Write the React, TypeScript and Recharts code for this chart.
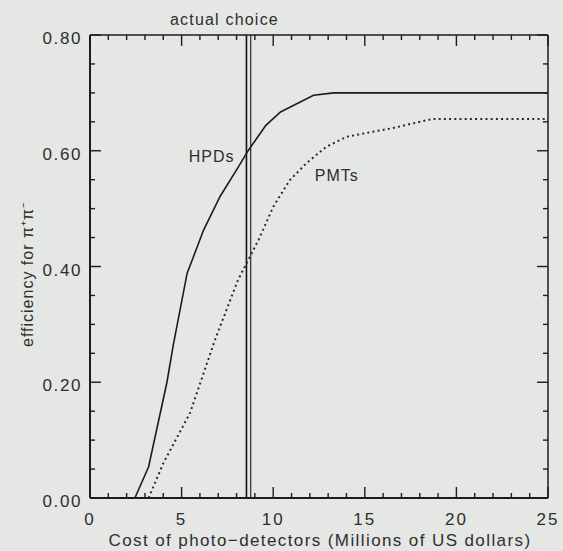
import { Line, LineChart, ReferenceDot, ReferenceLine, XAxis, YAxis } from "recharts";

// HPDs (solid) and PMTs (dotted)
const hpdCost = [2.2, 2.45, 3.2, 4.2, 4.55, 5.3, 6.2, 7.1, 8.0, 8.65, 9.6, 10.4, 12.2, 13.3, 25];
const hpdEff = [0, 0, 0.054, 0.2, 0.265, 0.388, 0.463, 0.521, 0.567, 0.601, 0.644, 0.667, 0.696, 0.7, 0.7];
const pmtCost = [3.2, 4.0, 5.46, 6.82, 8.08, 9.2, 10.0, 10.9, 11.83, 12.9, 14.0, 15.45, 16.5, 18.7, 25];
const pmtEff = [0, 0.06, 0.147, 0.273, 0.377, 0.446, 0.503, 0.549, 0.579, 0.607, 0.624, 0.633, 0.639, 0.655, 0.655];

const choiceLines = [8.54, 8.77];

const xTicks = [0, 1, 2, 3, 4, 5, 6, 7, 8, 9, 10, 11, 12, 13, 14, 15, 16, 17, 18, 19, 20, 21, 22, 23, 24, 25];
const yTicks = [0, 0.05, 0.1, 0.15, 0.2, 0.25, 0.3, 0.35, 0.4, 0.45, 0.5, 0.55, 0.6, 0.65, 0.7, 0.75, 0.8];

const W = 563;
const H = 551;
const MARGIN = { top: 34, right: 14, bottom: 52, left: 89 };
const PLOT_H = H - MARGIN.top - MARGIN.bottom - 2; // two 1px axis boxes
const Y_MAX = 0.8;

const BG = "#e4e7e4";
const INK = "#1c1c1c";
const TEXT = "#2e2e2e";
const FONT = "'Liberation Sans', Arial, sans-serif";

const hpdData = hpdCost.map((x, i) => ({ x, y: hpdEff[i] }));
const pmtData = pmtCost.map((x, i) => ({ x, y: pmtEff[i] }));

const isMajorX = (v: number) => Math.abs(v % 5) < 1e-6;
const isMajorY = (v: number) => Math.abs(v * 5 - Math.round(v * 5)) < 1e-6;

// tick length in pixels -> y data units, for the bottom-edge tick segments
const pxToY = (px: number) => (px / PLOT_H) * Y_MAX;

function TopTick(props: any) {
  const x = Number(props.x);
  const y = Number(props.y);
  const len = isMajorX(props.payload.value) ? 11 : 5;
  return <path d={`M${x},${y}V${y + len}`} stroke={INK} strokeWidth={1.4} fill="none" />;
}

function BottomTick(props: any) {
  const x = Number(props.x);
  const y = Number(props.y);
  const v = props.payload.value;
  if (!isMajorX(v)) return <g />;
  return (
    <text x={x} y={y + 27} textAnchor="middle" fontSize={17} letterSpacing={2} fill={TEXT} fontFamily={FONT}>
      {v}
    </text>
  );
}

function YTick(props: any, side: "left" | "right") {
  const x = Number(props.x);
  const y = Number(props.y);
  const v = props.payload.value;
  const major = isMajorY(v);
  const len = major ? 11 : 5;
  const dir = side === "left" ? 1 : -1;
  return (
    <g>
      <path d={`M${x},${y}H${x + dir * len}`} stroke={INK} strokeWidth={1.4} fill="none" />
      {side === "left" && major && (
        <text x={x - 8} y={y + 9} textAnchor="end" fontSize={17} letterSpacing={1.6} fill={TEXT} fontFamily={FONT}>
          {v.toFixed(2)}
        </text>
      )}
    </g>
  );
}

// axis titles, drawn from the left axis box
function Titles(p: any) {
  const { x, y, height } = p.viewBox;
  const cx = 33;
  const cy = y + height / 2 + 8;
  return (
    <g>
      <text
        x={cx}
        y={cy}
        transform={`rotate(-90 ${cx} ${cy})`}
        textAnchor="middle"
        fontSize={16}
        letterSpacing={1}
        fill={TEXT}
        fontFamily={FONT}
      >
        efficiency for π⁺π⁻
      </text>
      <text x={x + 231} y={y + height + 48} textAnchor="middle" fontSize={17} letterSpacing={1.4} fill={TEXT} fontFamily={FONT}>
        Cost of photo−detectors (Millions of US dollars)
      </text>
    </g>
  );
}

export default function App() {
  return (
    <div style={{ position: "absolute", left: 0, top: 0, width: W, height: H, background: BG }}>
      <LineChart width={W} height={H} margin={MARGIN}>
        <XAxis
          xAxisId="b"
          type="number"
          dataKey="x"
          domain={[0, 25]}
          ticks={xTicks}
          interval={0}
          height={1}
          tickSize={0}
          tickMargin={0}
          tickLine={false}
          axisLine={{ stroke: INK, strokeWidth: 2 }}
          tick={BottomTick}
        />
        <XAxis
          xAxisId="t"
          orientation="top"
          type="number"
          dataKey="x"
          domain={[0, 25]}
          ticks={xTicks}
          interval={0}
          height={1}
          tickSize={0}
          tickMargin={0}
          tickLine={false}
          axisLine={{ stroke: INK, strokeWidth: 1.5 }}
          tick={TopTick}
        />
        <YAxis
          yAxisId="l"
          type="number"
          domain={[0, Y_MAX]}
          ticks={yTicks}
          interval={0}
          width={1}
          tickSize={0}
          tickMargin={0}
          tickLine={false}
          axisLine={{ stroke: INK, strokeWidth: 2 }}
          tick={(p: any) => YTick(p, "left")}
          label={{ content: Titles }}
        />
        <YAxis
          yAxisId="r"
          orientation="right"
          type="number"
          domain={[0, Y_MAX]}
          ticks={yTicks}
          interval={0}
          width={1}
          tickSize={0}
          tickMargin={0}
          tickLine={false}
          axisLine={{ stroke: INK, strokeWidth: 1.5 }}
          tick={(p: any) => YTick(p, "right")}
        />
        {/* inward tick marks on the bottom edge */}
        {xTicks.map((v) => (
          <ReferenceLine
            key={`bt${v}`}
            xAxisId="b"
            yAxisId="l"
            segment={[
              { x: v, y: 0 },
              { x: v, y: pxToY(isMajorX(v) ? 11 : 5) },
            ]}
            stroke={INK}
            strokeWidth={1.4}
          />
        ))}
        <ReferenceLine
          xAxisId="b"
          yAxisId="l"
          x={choiceLines[0]}
          stroke="#111"
          strokeWidth={1.6}
          label={{
            value: "actual choice",
            position: "top",
            dx: -22,
            offset: 10,
            fontSize: 16,
            letterSpacing: 1.2,
            fill: TEXT,
            fontFamily: FONT,
          }}
        />
        <ReferenceLine xAxisId="b" yAxisId="l" x={choiceLines[1]} stroke="#3a3a3a" strokeWidth={1.3} />
        <Line
          xAxisId="b"
          yAxisId="l"
          data={hpdData}
          dataKey="y"
          type="linear"
          stroke={INK}
          strokeWidth={1.6}
          dot={false}
          isAnimationActive={false}
        />
        {/* same domains as b/l; keeps the top and right frame axes alive */}
        <Line
          xAxisId="t"
          yAxisId="r"
          data={pmtData}
          dataKey="y"
          type="linear"
          stroke="#2a2a2a"
          strokeWidth={2}
          strokeDasharray="2 3.2"
          dot={false}
          isAnimationActive={false}
        />
        <ReferenceDot
          xAxisId="b"
          yAxisId="l"
          x={6.64}
          y={0.59}
          r={0}
          label={{ value: "HPDs", position: "center", fontSize: 16, letterSpacing: 1, fill: TEXT, fontFamily: FONT }}
        />
        <ReferenceDot
          xAxisId="b"
          yAxisId="l"
          x={13.47}
          y={0.557}
          r={0}
          label={{ value: "PMTs", position: "center", fontSize: 16, letterSpacing: 1, fill: TEXT, fontFamily: FONT }}
        />
      </LineChart>
    </div>
  );
}
